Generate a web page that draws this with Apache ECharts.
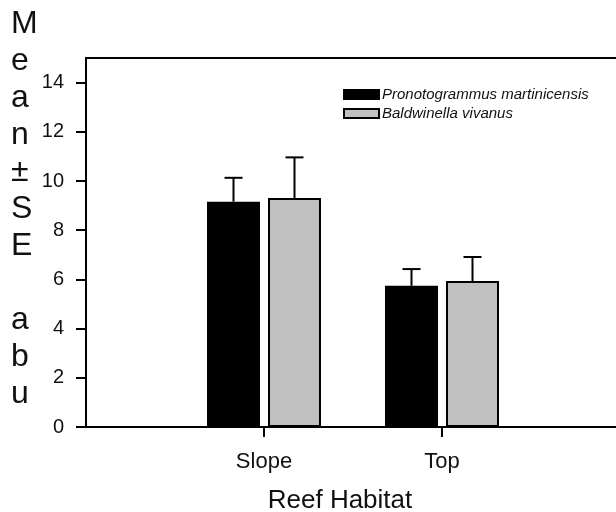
<!DOCTYPE html>
<html><head><meta charset="utf-8">
<script src="https://cdn.jsdelivr.net/npm/echarts@6/dist/echarts.min.js"></script>
<style>html,body{margin:0;padding:0;background:#fff}#c{width:616px;height:512px}</style>
</head><body><div id="c"></div>
<script>
// ---- data ----
const categories = ['', 'Slope', 'Top', ''];
const seriesNames = ['Pronotogrammus martinicensis', 'Baldwinella vivanus'];
const meanMartinicensis = [null, 9.16, 5.74, null];
const seMartinicensis = [null, 0.97, 0.68, null];
const meanVivanus = [null, 9.31, 5.93, null];
const seVivanus = [null, 1.65, 0.98, null];
const yTickLabels = [0, 2, 4, 6, 8, 10, 12, 14];
const yTitleChars = ['M', 'e', 'a', 'n', '±', 'S', 'E', ' ', 'a', 'b', 'u'];
const xTitle = 'Reef Habitat';

// ---- style ----
const FONT = '"Liberation Sans", Arial, sans-serif';
const TXT = '#111';
const BAR_W = 53, GAP_PX = 8;
const OFF = (BAR_W + GAP_PX) / 2;

function errSeries(name, means, ses, offset) {
  const data = [];
  means.forEach((m, i) => { if (m != null) data.push([i, m, m + ses[i]]); });
  return {
    type: 'custom', name: name + ' SE', z: 5, silent: true,
    data: data,
    renderItem(params, api) {
      const b = api.coord([api.value(0), api.value(1)]);
      const t = api.coord([api.value(0), api.value(2)]);
      const cx = b[0] + offset;
      return { type: 'group', children: [
        { type: 'line', shape: { x1: cx, y1: b[1], x2: cx, y2: t[1] }, style: { stroke: '#000', lineWidth: 2 } },
        { type: 'line', shape: { x1: cx - 9, y1: t[1], x2: cx + 9, y2: t[1] }, style: { stroke: '#000', lineWidth: 2 } }
      ]};
    }
  };
}

const chart = echarts.init(document.getElementById('c'));
chart.setOption({
  animation: false,
  backgroundColor: '#fff',
  grid: { left: 86, top: 58, bottom: 85, right: -4, containLabel: false, outerBoundsMode: 'none' },
  legend: {
    orient: 'vertical', left: 338, top: 82, itemWidth: 35, itemHeight: 9, itemGap: 4,
    icon: 'rect',
    data: seriesNames,
    textStyle: { fontStyle: 'italic', fontSize: 15, fontFamily: FONT, color: TXT, padding: [0, 0, 0, -2] }
  },
  xAxis: [{
    type: 'category', data: categories, boundaryGap: false, position: 'bottom',
    axisLine: { lineStyle: { color: '#000', width: 2 } },
    axisTick: { length: 10, lineStyle: { color: '#000', width: 2 }, interval: (i, v) => v !== '' },
    axisLabel: { interval: 0, margin: 24, fontSize: 22, fontFamily: FONT, color: TXT },
    name: xTitle, nameLocation: 'middle', nameGap: 61,
    nameTextStyle: { fontSize: 26, fontFamily: FONT, color: TXT, verticalAlign: 'top', padding: [0, 26, 0, 0] }
  }, {
    type: 'category', data: categories, boundaryGap: false, position: 'top',
    axisLine: { lineStyle: { color: '#000', width: 2 } },
    axisTick: { show: false }, axisLabel: { show: false }
  }],
  yAxis: {
    type: 'value', min: 0, max: 15, interval: 1,
    axisLine: { show: true, lineStyle: { color: '#000', width: 2 } },
    axisTick: { show: true, length: 10, customValues: yTickLabels, lineStyle: { color: '#000', width: 2 } },
    axisLabel: { customValues: yTickLabels, margin: 22, fontSize: 20, fontFamily: FONT, color: TXT },
    splitLine: { show: false }
  },
  graphic: [{
    type: 'text', x: 11, y: 6,
    style: { text: yTitleChars.join('\n'), font: '32px ' + FONT, lineHeight: 37, fill: TXT, textAlign: 'left', textVerticalAlign: 'top' }
  }],
  series: [
    { type: 'bar', name: seriesNames[0], data: meanMartinicensis, barWidth: BAR_W, barGap: (GAP_PX / BAR_W * 100) + '%',
      itemStyle: { color: '#000', borderColor: '#000', borderWidth: 2 } },
    { type: 'bar', name: seriesNames[1], data: meanVivanus, barWidth: BAR_W,
      itemStyle: { color: '#c0c0c0', borderColor: '#000', borderWidth: 2 } },
    errSeries(seriesNames[0], meanMartinicensis, seMartinicensis, -OFF),
    errSeries(seriesNames[1], meanVivanus, seVivanus, OFF)
  ]
});
</script></body></html>
